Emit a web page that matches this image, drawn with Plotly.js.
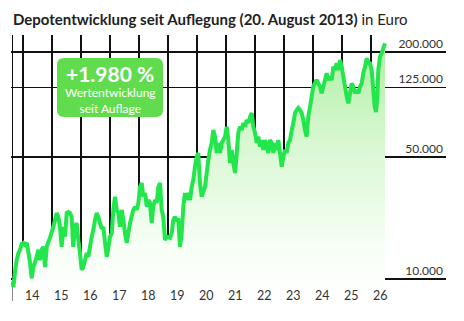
<!DOCTYPE html>
<html>
<head>
<meta charset="utf-8">
<script src="https://cdn.plot.ly/plotly-3.0.1.min.js"></script>
<style>html,body{margin:0;padding:0;background:#fff;}#chart{width:464px;height:321px;}</style>
</head>
<body>
<div id="chart"></div>
<script>
// Decimal years (time axis)
const years = [2013.636,2013.666,2013.707,2013.741,2013.783,2013.838,2013.897,2013.955,2014.010,2014.069,2014.128,2014.183,2014.241,2014.300,2014.355,2014.414,2014.472,2014.528,2014.586,2014.645,2014.700,2014.759,2014.817,2014.872,2014.931,2014.990,
2015.045,2015.103,2015.162,2015.217,2015.276,2015.334,2015.390,2015.448,2015.507,2015.562,2015.621,2015.679,2015.734,2015.793,2015.852,2015.907,2015.966,
2016.024,2016.079,2016.138,2016.197,2016.252,2016.310,2016.369,2016.424,2016.483,2016.541,2016.597,2016.655,2016.714,2016.769,2016.828,2016.886,2016.941,
2017.000,2017.059,2017.114,2017.172,2017.231,2017.286,2017.345,2017.403,2017.459,2017.517,2017.576,2017.631,2017.690,2017.803,2017.862,2017.921,2017.976,
2018.034,2018.093,2018.148,2018.207,2018.266,2018.321,2018.379,2018.438,2018.493,2018.552,2018.610,2018.666,2018.724,2018.783,2018.838,2018.897,2018.955,
2019.069,2019.128,2019.183,2019.241,2019.300,2019.355,2019.414,2019.472,2019.528,2019.586,2019.645,2019.700,2019.759,2019.817,2019.872,2019.931,2019.990,
2020.045,2020.103,2020.162,2020.217,2020.276,2020.334,2020.390,2020.448,2020.507,2020.562,2020.621,2020.679,2020.734,2020.793,2020.852,2020.907,2020.966,
2021.024,2021.079,2021.138,2021.197,2021.252,2021.310,2021.369,2021.424,2021.483,2021.541,2021.597,2021.655,2021.714,2021.769,2021.828,2021.886,2021.941,
2022.000,2022.059,2022.114,2022.172,2022.231,2022.286,2022.345,2022.403,2022.459,2022.517,2022.576,2022.631,2022.690,2022.748,2022.803,2022.862,2022.921,2022.976,
2023.034,2023.093,2023.148,2023.207,2023.266,2023.321,2023.379,2023.438,2023.493,2023.552,2023.610,2023.666,2023.724,2023.783,2023.838,2023.897,2023.955,
2024.010,2024.069,2024.128,2024.183,2024.241,2024.300,2024.355,2024.414,2024.472,2024.528,2024.586,2024.645,2024.700,2024.759,2024.817,2024.872,2024.931,2024.990,
2025.045,2025.103,2025.162,2025.217,2025.276,2025.334,2025.390,2025.448,2025.507,2025.562,2025.621,2025.679,2025.734,2025.793,2025.852,2025.907,2025.966,
2026.024,2026.079,2026.128,2026.172,2026.217,2026.252,2026.310,2026.369,2026.424,2026.483];

// Depot value in thousand euro
const depotK = [9.7,9.0,10.4,11.6,12.8,14.0,14.7,15.9,16.1,15.7,16.1,14.3,12.5,10.1,11.7,12.5,13.4,14.7,12.8,14.7,15.3,11.7,15.3,16.3,17.2,18.6,
19.9,21.8,23.9,22.7,19.9,15.3,19.9,17.5,23.9,24.2,23.9,22.7,15.3,19.9,20.9,16.7,14.1,
11.3,11.7,12.8,14.1,13.4,15.3,17.5,19.1,21.8,23.9,22.7,20.9,19.4,19.9,16.1,13.4,15.1,
17.5,18.3,24.9,29.6,24.9,23.9,19.9,24.9,21.8,18.3,16.1,18.3,20.9,24.9,25.9,24.9,27.3,
33.8,35.5,29.6,31.1,26.0,28.4,27.3,20.9,26.0,28.4,27.3,33.8,35.5,24.9,22.7,16.7,17.5,
17.2,18.3,21.8,22.7,21.8,21.8,15.3,18.3,26.0,31.1,28.4,31.1,28.4,33.8,36.9,44.0,50.2,
52.7,35.5,29.6,31.7,33.8,40.5,48.1,54.9,60.2,71.4,65.4,52.7,60.2,52.7,60.2,62.6,65.4,
74.6,62.6,46.2,54.9,46.2,40.5,52.7,68.7,74.6,71.4,78.3,74.6,81.5,78.3,85.1,89.3,74.6,
68.7,60.2,65.4,57.3,62.6,54.9,62.6,57.3,52.7,62.6,60.2,52.7,60.2,54.9,62.6,52.7,44.0,50.2,
54.9,52.7,60.2,62.6,71.4,78.3,89.3,93.0,95.5,93.0,89.3,81.5,71.4,65.4,85.1,97.1,110.8,
126.5,132.3,138.2,132.3,126.5,115.9,126.5,138.2,151.0,138.2,144.3,138.2,164.7,157.7,172.2,157.7,179.9,164.7,
144.3,126.5,110.8,101.6,115.9,132.3,126.5,115.9,121.1,115.9,126.5,132.3,151.0,164.7,184.0,175.0,172.2,
157.7,121.1,97.1,90.5,110.8,157.7,187.9,196.5,209.9,224.2];

const startDate = '2013-08-20';
const yearTicks = ['2014','2015','2016','2017','2018','2019','2020','2021','2022','2023','2024','2025','2026'];
const yearLabels = ['14','15','16','17','18','19','20','21','22','23','24','25','26'];
const yTickVals = [10000, 50000, 125000, 200000];
const yTickText = ['10.000', '50.000', '125.000', '200.000'];
const badgeBig = '+1.980 %';
const badgeSmall = 'Wertentwicklung<br>seit Auflage';
const titleText = '<b>Depotentwicklung seit Auflegung (20. August 2013)</b> in Euro';

function yearToDate(y) {
  const yr = Math.floor(y);
  const t0 = Date.UTC(yr, 0, 1), t1 = Date.UTC(yr + 1, 0, 1);
  const d = new Date(t0 + (y - yr) * (t1 - t0));
  return d.toISOString().slice(0, 10);
}

const xDates = years.map(yearToDate);
const yVals = depotK.map(v => v * 1000);

// layout geometry (pixels)
const W = 464, H = 321;
const M = {l: 11, r: 18, t: 35, b: 20};
const PW = W - M.l - M.r, PH = H - M.t - M.b;
const px = x => (x - M.l) / PW;
const py = y => (H - M.b - y) / PH;

function roundRect(x0, y0, x1, y1, r) {
  const rx = r / PW, ry = r / PH;
  const X0 = px(x0), X1 = px(x1), Y0 = py(y0), Y1 = py(y1);
  return `M ${X0 + rx} ${Y0} L ${X1 - rx} ${Y0} Q ${X1} ${Y0} ${X1} ${Y0 - ry} ` +
         `L ${X1} ${Y1 + ry} Q ${X1} ${Y1} ${X1 - rx} ${Y1} L ${X0 + rx} ${Y1} ` +
         `Q ${X0} ${Y1} ${X0} ${Y1 + ry} L ${X0} ${Y0 - ry} Q ${X0} ${Y0} ${X0 + rx} ${Y0} Z`;
}

const trace = {
  x: xDates, y: yVals, type: 'scatter', mode: 'lines',
  line: {color: '#22e64b', width: 4, simplify: false},
  fill: 'tozeroy',
  fillgradient: {type: 'vertical', start: 8000, stop: 230000,
    colorscale: [[0, 'rgba(255,255,255,1)'], [0.2, 'rgba(246,254,245,1)'], [0.6, 'rgba(216,248,210,1)'], [1, 'rgba(174,237,162,1)']]},
  hoverinfo: 'skip'
};

const layout = {
  width: W, height: H,
  margin: M,
  paper_bgcolor: '#fff', plot_bgcolor: '#fff',
  showlegend: false,
  font: {family: 'Lato, sans-serif', color: '#333'},
  title: {text: titleText, x: 13 / W, xref: 'container', xanchor: 'left',
          y: 1 - 20 / H, yref: 'container', yanchor: 'middle',
          font: {family: 'Lato, sans-serif', size: 15, color: '#222'}},
  xaxis: {
    type: 'date',
    range: [yearToDate(2014 + (M.l - 23) / 29), yearToDate(2014 + (W - M.r - 23) / 29)],
    tickvals: [startDate].concat(yearTicks.map(y => y + '-01-01')),
    ticktext: [''].concat(yearLabels),
    ticklabelposition: 'inside right',
    ticklabelstandoff: -7,
    ticklabelshift: 2,
    ticks: '', showline: false, zeroline: false,
    showgrid: true, gridcolor: '#111', gridwidth: 1.3,
    tickfont: {size: 12.5, color: '#333'}
  },
  yaxis: {
    type: 'log', side: 'right',
    range: [4 - 22 / 174.5, 4 + 244 / 174.5],
    tickvals: yTickVals, ticktext: yTickText,
    ticklabelposition: 'inside top',
    ticks: '', showline: false, zeroline: false,
    showgrid: true, gridcolor: '#111', gridwidth: 1.3,
    tickfont: {size: 12, color: '#333'}
  },
  shapes: [{type: 'path', xref: 'paper', yref: 'paper', path: roundRect(57, 58, 163, 117, 7),
            fillcolor: '#62dc4f', line: {width: 0}, layer: 'above'}],
  annotations: [
    {xref: 'paper', yref: 'paper', x: px(110), y: py(73), text: '<b>' + badgeBig + '</b>', showarrow: false,
     font: {size: 21, color: '#fff', family: 'Lato, sans-serif'}, xanchor: 'center', yanchor: 'middle'},
    {xref: 'paper', yref: 'paper', x: px(110), y: py(100.5), text: badgeSmall, showarrow: false,
     font: {size: 12, color: '#fff', family: 'Lato, sans-serif'}, xanchor: 'center', yanchor: 'middle'}
  ]
};

Plotly.newPlot('chart', [trace], layout, {displayModeBar: false, staticPlot: true});
</script>
</body>
</html>
